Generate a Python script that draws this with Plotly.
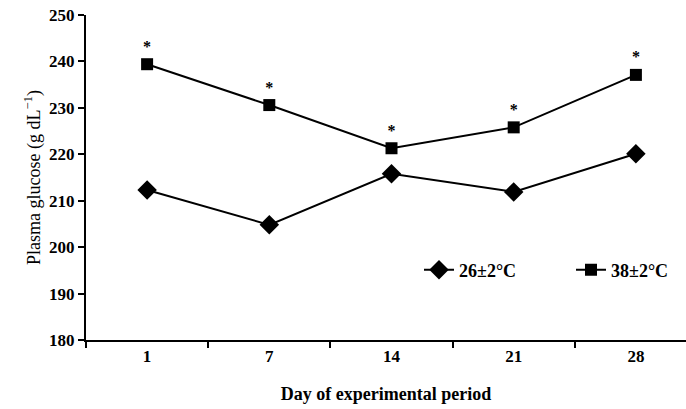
import plotly.graph_objects as go

days = ["1", "7", "14", "21", "28"]
temp26 = [212.3, 204.8, 215.8, 211.9, 220.1]
temp38 = [239.4, 230.6, 221.3, 225.8, 237.1]
sig38 = ["<b>*</b>"] * 5

font = "Liberation Serif"

fig = go.Figure()
fig.add_trace(go.Scatter(
    x=days, y=temp26, name="26±2°C", mode="lines+markers",
    line=dict(color="black", width=2),
    marker=dict(symbol="diamond", size=15, color="black"),
))
fig.add_trace(go.Scatter(
    x=days, y=temp38, name="38±2°C", mode="lines+markers+text",
    text=sig38, textposition="top center",
    textfont=dict(family=font, size=16, color="#000000"),
    line=dict(color="black", width=2),
    marker=dict(symbol="square", size=12, color="black"),
))

fig.update_layout(
    width=686, height=409,
    margin=dict(l=86, r=0, t=15, b=69, autoexpand=False),
    paper_bgcolor="white", plot_bgcolor="white",
    font=dict(family=font, size=16, color="black"),
    showlegend=True,
    legend=dict(orientation="h", x=0.555, y=0.215, xanchor="left", yanchor="middle",
                font=dict(family=font, size=18, color="black", weight="bold"),
                bgcolor="rgba(0,0,0,0)", entrywidth=107, entrywidthmode="pixels",
                tracegroupgap=0),
)
fig.update_xaxes(
    type="category", range=[-0.5, 4.41], automargin=False,
    showline=True, linecolor="black", linewidth=2,
    ticks="outside", tickson="boundaries", ticklen=6, tickwidth=2, tickcolor="black",
    showgrid=False, zeroline=False,
    tickfont=dict(family=font, size=17, color="black", weight="bold"),
    title=dict(text="Day of experimental period", standoff=22,
               font=dict(family=font, size=18, color="black", weight="bold")),
)
fig.update_yaxes(
    range=[180, 250], dtick=10, automargin=False,
    showline=True, linecolor="black", linewidth=2,
    ticks="outside", ticklen=6, tickwidth=2, tickcolor="black",
    showgrid=False, zeroline=False,
    tickfont=dict(family=font, size=17, color="black", weight="bold"),
    title=dict(text="Plasma glucose (g dL<sup>−1</sup>)", standoff=4,
               font=dict(family=font, size=18, color="black")),
)

fig.write_html("out.html", config={"displayModeBar": False},
               post_script="document.body.style.margin='0';")
